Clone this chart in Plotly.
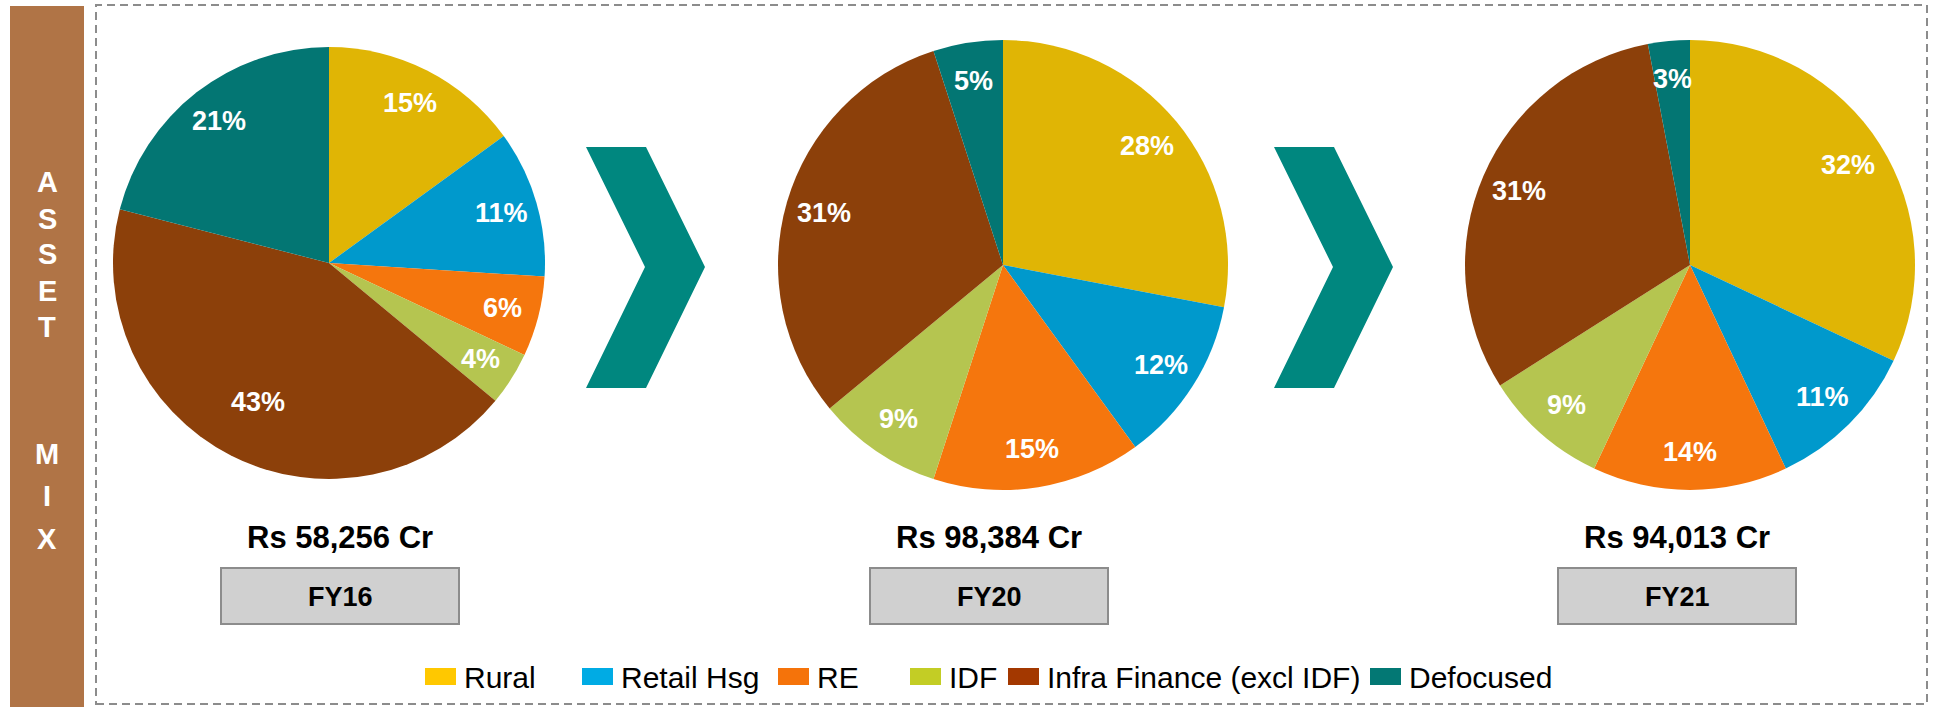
import math
import plotly.graph_objects as go

W, H = 1933, 707

# ---------------- data ----------------
segments = ["Rural", "Retail Hsg", "RE", "IDF", "Infra Finance (excl IDF)", "Defocused"]
fy16_values = [15, 11, 6, 4, 43, 21]
fy20_values = [28, 12, 15, 9, 31, 5]
fy21_values = [32, 11, 14, 9, 31, 3]
years = ["FY16", "FY20", "FY21"]
totals = ["Rs 58,256 Cr", "Rs 98,384 Cr", "Rs 94,013 Cr"]
side_letters = ["A", "S", "S", "E", "T", "M", "I", "X"]

# ---------------- style ----------------
pie_colors = ["#E0B505", "#0099CC", "#F5760D", "#B5C550", "#8C400A", "#037673"]
legend_colors = ["#FFC800", "#00ABE4", "#F5730A", "#C3CD25", "#A33800", "#037874"]
FONT = "Liberation Sans, Arial, sans-serif"


def px_x(x):
    return x / W


def px_y(y):
    return 1 - y / H


def dom(cx, cy, r):
    return dict(x=[px_x(cx - r), px_x(cx + r)], y=[px_y(cy + r), px_y(cy - r)])


fig = go.Figure()
shapes = []
annotations = []

pie_geom = [(329, 263, 216), (1003, 265, 225), (1690, 265, 225)]
all_values = [fy16_values, fy20_values, fy21_values]

for vals, (cx, cy, r), yr in zip(all_values, pie_geom, years):
    fig.add_trace(go.Pie(
        labels=segments,
        values=vals,
        name=yr,
        sort=False,
        direction="clockwise",
        rotation=0,
        marker=dict(colors=pie_colors, line=dict(width=0)),
        textinfo="none",
        domain=dom(cx, cy, r),
        showlegend=False,
        hoverinfo="label+value",
    ))
    # data labels placed along each slice's mid angle (computed from the values)
    total = sum(vals)
    cum = 0
    for v in vals:
        mid = (cum + v / 2) / total * 2 * math.pi
        cum += v
        k = 0.72 if v / total > 0.4 else 0.83
        lx = cx + k * r * math.sin(mid)
        ly = cy - k * r * math.cos(mid)
        annotations.append(dict(x=px_x(lx), y=px_y(ly), xref="paper", yref="paper",
                                xanchor="center", yanchor="middle",
                                text=f"{v}%", showarrow=False,
                                font=dict(family=FONT, size=27, color="white", weight="bold")))

# left sidebar
shapes.append(dict(type="rect", xref="paper", yref="paper",
                   x0=px_x(10), x1=px_x(84), y0=px_y(707), y1=px_y(6),
                   fillcolor="#B07446", line=dict(width=0), layer="below"))
letter_y = [182, 219, 254, 291, 327, 454, 496, 539]
for ch, ly in zip(side_letters, letter_y):
    annotations.append(dict(x=px_x(47), y=px_y(ly), xref="paper", yref="paper",
                            xanchor="center", yanchor="middle",
                            text=ch, showarrow=False,
                            font=dict(family=FONT, size=29, color="white", weight="bold")))

# dashed border
shapes.append(dict(type="rect", xref="paper", yref="paper",
                   x0=px_x(96), x1=px_x(1927), y0=px_y(704), y1=px_y(5),
                   line=dict(color="#8C8C8C", width=2, dash="8px,5px"),
                   fillcolor="rgba(0,0,0,0)", layer="below"))

# chevrons
for off in (0, 688):
    pts = [(586 + off, 147), (646 + off, 147), (705 + off, 267),
           (646 + off, 388), (586 + off, 388), (645 + off, 267)]
    path = "M " + " L ".join(f"{px_x(x)},{px_y(y)}" for x, y in pts) + " Z"
    shapes.append(dict(type="path", xref="paper", yref="paper", path=path,
                       fillcolor="#00877F", line=dict(width=0)))

# totals and year boxes
box_centers = [340, 989, 1677]
for xc, tot, yr in zip(box_centers, totals, years):
    annotations.append(dict(x=px_x(xc), y=px_y(537), xref="paper", yref="paper",
                            xanchor="center", yanchor="middle",
                            text=tot, showarrow=False,
                            font=dict(family=FONT, size=31, color="black", weight="bold")))
    shapes.append(dict(type="rect", xref="paper", yref="paper",
                       x0=px_x(xc - 119), x1=px_x(xc + 119), y0=px_y(624), y1=px_y(568),
                       fillcolor="#D0D0D0", line=dict(color="#8C8C8C", width=2)))
    annotations.append(dict(x=px_x(xc), y=px_y(597), xref="paper", yref="paper",
                            xanchor="center", yanchor="middle",
                            text=yr, showarrow=False,
                            font=dict(family=FONT, size=27, color="black", weight="bold")))

# custom legend (text left edges; swatch sits just before each text)
leg_text_x = [462, 619, 815, 947, 1045, 1407]
for tx, lab, col in zip(leg_text_x, segments, legend_colors):
    shapes.append(dict(type="rect", xref="paper", yref="paper",
                       x0=px_x(tx - 37), x1=px_x(tx - 6), y0=px_y(685), y1=px_y(668),
                       fillcolor=col, line=dict(width=0)))
    annotations.append(dict(x=px_x(tx), y=px_y(677), xref="paper", yref="paper",
                            xanchor="left", yanchor="middle", text=lab, showarrow=False,
                            font=dict(family=FONT, size=30, color="black")))

fig.update_layout(
    width=W, height=H,
    margin=dict(l=0, r=0, t=0, b=0),
    paper_bgcolor="white",
    plot_bgcolor="white",
    showlegend=False,
    shapes=shapes,
    annotations=annotations,
)

fig.write_html(
    "out.html",
    config={"displayModeBar": False},
    post_script="document.body.style.margin='0';document.body.style.overflow='hidden';",
)
